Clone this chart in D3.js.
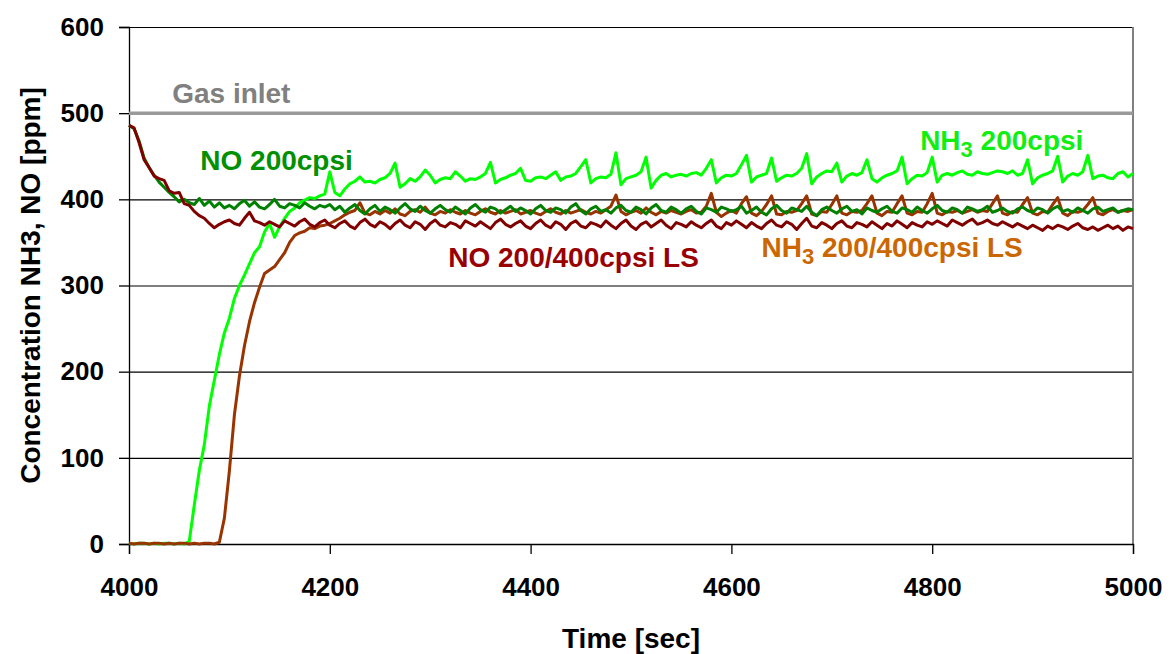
<!DOCTYPE html>
<html>
<head>
<meta charset="utf-8">
<script src="https://cdn.jsdelivr.net/npm/d3@7"></script>
<style>
  body { margin: 0; background: #fff; }
  text { font-family: "Liberation Sans", Arial, sans-serif; font-weight: bold; }
</style>
</head>
<body>
<svg id="chart"></svg>
<script>
// sample grid of the logger: one reading every 5 sec, 4000..5000
const times = d3.range(4000, 5001, 5);

const gasInlet = 500;

const nh3_200 = [
  1,0,1,1,0,1,0,1,1,0,
  1,0,3,45,85,115,160,190,220,245,
  262,285,300,312,325,338,345,362,372,356,
  368,378,386,390,396,399,402,401,404,406,
  432,408,404,412,418,421,426,420,421,419,
  423,425,430,442,414,418,424,421,426,434,
  428,419,423,425,424,432,427,421,424,423,
  426,430,443,419,423,425,428,430,436,422,
  421,425,426,424,428,432,422,426,427,430,
  438,446,419,424,426,425,429,454,417,424,
  426,428,432,449,413,422,428,430,426,428,
  429,427,430,431,428,436,446,419,425,428,
  427,430,440,451,420,426,428,430,448,421,
  425,428,427,430,436,453,418,426,430,433,
  432,442,420,427,430,428,431,446,424,420,
  425,428,430,433,449,418,424,428,427,431,
  449,420,428,430,428,431,433,429,428,432,
  430,429,431,433,432,430,433,428,430,446,
  418,425,428,430,433,450,420,427,430,428,
  432,451,424,427,428,425,424,430,432,426,
  430
];

const nh3_ls = [
  1,0,1,1,0,1,1,0,1,0,
  1,1,0,1,0,1,1,0,2,30,
  85,150,195,230,258,280,298,314,318,322,
  330,338,350,358,361,363,367,366,369,370,
  372,375,378,382,385,387,396,384,382,386,
  383,387,384,389,383,381,386,388,385,391,
  384,382,386,384,388,385,383,387,384,382,
  386,389,385,383,387,384,386,388,383,385,
  387,384,382,386,389,385,383,387,384,386,
  388,385,383,386,384,388,392,405,386,382,
  385,387,384,390,385,382,386,384,387,385,
  383,386,388,384,385,392,407,385,380,384,
  387,384,395,403,384,381,386,394,404,383,
  382,386,385,387,395,404,383,381,386,385,
  394,404,384,382,386,385,387,395,404,384,
  381,386,385,395,404,384,382,386,385,395,
  407,384,382,386,385,387,384,386,388,385,
  387,386,395,404,384,382,386,385,394,402,
  384,382,386,385,394,402,384,381,386,385,
  387,394,402,384,382,386,388,385,387,386,
  388
];

const no_200 = [
  486,482,468,448,437,428,420,414,408,403,
  397,400,396,394,401,393,398,391,396,390,
  393,389,395,399,392,397,391,389,394,400,
  392,390,395,393,390,396,392,389,393,391,
  394,388,392,385,390,394,387,383,389,393,
  386,391,388,384,390,395,389,386,392,387,
  384,389,393,388,385,391,387,383,390,394,
  388,385,391,389,384,388,392,386,390,387,
  383,389,393,387,385,390,388,384,391,395,
  387,383,389,392,386,388,384,390,393,387,
  385,391,388,383,390,394,387,385,391,388,
  384,389,392,386,383,390,388,385,391,389,
  386,388,392,384,387,391,385,382,389,393,
  387,384,390,388,386,392,385,381,388,391,
  387,384,389,392,386,388,383,390,387,385,
  389,392,386,384,390,388,385,391,387,384,
  389,393,387,385,390,388,384,391,389,386,
  388,392,385,387,390,386,384,389,391,387,
  385,390,388,384,389,392,386,388,385,390,
  387,384,389,391,386,388,390,385,387,389,
  388
];

const no_ls = [
  486,483,466,446,437,427,424,422,410,407,
  408,395,393,386,381,378,372,367,371,374,
  376,372,370,378,385,375,373,370,374,371,
  368,375,372,369,374,377,371,368,373,376,
  370,367,372,375,369,366,373,377,371,368,
  374,371,366,372,376,370,367,374,371,365,
  372,376,370,368,373,371,367,375,372,369,
  374,370,366,373,377,371,368,372,375,369,
  366,372,376,370,367,374,371,365,372,375,
  369,367,373,371,368,375,370,366,372,376,
  369,365,371,374,368,372,376,370,366,373,
  371,368,374,370,367,372,376,369,366,373,
  370,375,371,367,373,369,366,372,376,370,
  368,374,371,365,372,378,369,367,373,370,
  366,372,375,369,367,373,371,368,374,370,
  366,372,369,375,371,367,373,370,368,374,
  371,375,372,369,376,373,370,374,377,371,
  373,376,372,370,374,371,368,372,369,366,
  370,367,364,369,366,370,368,365,369,372,
  367,365,368,364,367,370,366,369,364,368,
  366
];

const xTicks = [4000, 4200, 4400, 4600, 4800, 5000];
const yTicks = [0, 100, 200, 300, 400, 500, 600];

const W = 1175, H = 654;
const margin = { top: 27, right: 42, bottom: 110, left: 129 };
const pw = W - margin.left - margin.right;
const ph = H - margin.top - margin.bottom;

const svg = d3.select("#chart").attr("width", W).attr("height", H);
const g = svg.append("g").attr("transform", `translate(${margin.left},${margin.top})`);

const x = d3.scaleLinear().domain([4000, 5000]).range([0, pw]);
const y = d3.scaleLinear().domain([0, 600]).range([ph, 0]);

// gridlines
g.append("g")
  .call(d3.axisLeft(y).tickValues(yTicks).tickSize(-pw).tickFormat(""))
  .call(s => s.select(".domain").remove())
  .selectAll("line").attr("stroke", "#000").attr("stroke-width", 1.2);

// right border of plot area
g.append("line")
  .attr("x1", pw).attr("x2", pw).attr("y1", 0).attr("y2", ph)
  .attr("stroke", "#808080").attr("stroke-width", 2);

// axes
const xAxis = g.append("g").attr("transform", `translate(0,${ph})`)
  .call(d3.axisBottom(x).tickValues(xTicks).tickSize(10).tickPadding(24).tickFormat(d3.format("d")));
const yAxis = g.append("g")
  .call(d3.axisLeft(y).tickValues(yTicks).tickSize(10).tickPadding(15));
[xAxis, yAxis].forEach(a => {
  a.selectAll("path, line").attr("stroke", "#000").attr("stroke-width", 1.3);
  a.selectAll("text").attr("fill", "#000").style("font-size", "26px");
});

// series
const line = d3.line().x((d, i) => x(times[i])).y(d => y(d));
const series = [
  { name: "gas", values: [gasInlet, gasInlet], color: "#9a9a9a" },
  { name: "nh3_200", values: nh3_200, color: "#00ff00" },
  { name: "nh3_ls", values: nh3_ls, color: "#993300" },
  { name: "no_200", values: no_200, color: "#008000" },
  { name: "no_ls", values: no_ls, color: "#800000" }
];

g.append("line")
  .attr("x1", x(4000)).attr("x2", x(5000))
  .attr("y1", y(gasInlet)).attr("y2", y(gasInlet))
  .attr("stroke", "#9a9a9a").attr("stroke-width", 3.5);

g.selectAll("path.series")
  .data(series.slice(1))
  .enter()
  .append("path")
  .attr("class", "series")
  .attr("d", d => line(d.values))
  .attr("fill", "none")
  .attr("stroke", d => d.color)
  .attr("stroke-width", 3)
  .attr("stroke-linejoin", "round");

// in-plot labels (positions in data units)
const labels = [
  { t: 4043, v: 512, color: "#808080", parts: [["Gas inlet"]] },
  { t: 4071, v: 434, color: "#009000", parts: [["NO 200cpsi"]] },
  { t: 4788, v: 457, color: "#11ee11", parts: [["NH"], ["3", true], [" 200cpsi"]] },
  { t: 4318, v: 321, color: "#990000", parts: [["NO 200/400cpsi LS"]] },
  { t: 4630, v: 333, color: "#cc6600", parts: [["NH"], ["3", true], [" 200/400cpsi LS"]] }
];

labels.forEach(l => {
  const txt = g.append("text")
    .attr("x", x(l.t)).attr("y", y(l.v))
    .attr("fill", l.color)
    .style("font-size", "28px");
  let shifted = false;
  l.parts.forEach(p => {
    const ts = txt.append("tspan").text(p[0]);
    if (p[1]) { ts.attr("dy", 7).style("font-size", "22px"); shifted = true; }
    else if (shifted) { ts.attr("dy", -7); shifted = false; }
  });
});

// axis titles
svg.append("text")
  .attr("x", margin.left + pw / 2).attr("y", 648)
  .attr("text-anchor", "middle")
  .style("font-size", "28px")
  .text("Time [sec]");

svg.append("text")
  .attr("transform", "rotate(-90)")
  .attr("x", -(margin.top + ph / 2)).attr("y", 40)
  .attr("text-anchor", "middle")
  .style("font-size", "28px")
  .text("Concentration NH3, NO [ppm]");
</script>
</body>
</html>
